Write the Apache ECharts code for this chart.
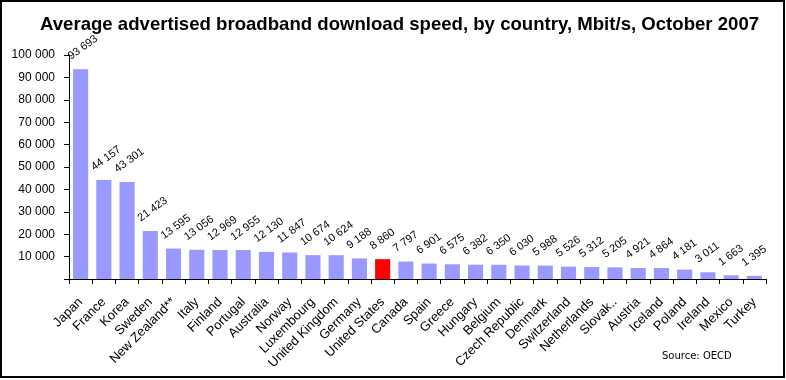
<!DOCTYPE html>
<html><head><meta charset="utf-8">
<script src="https://cdn.jsdelivr.net/npm/echarts@6/dist/echarts.min.js"></script>
<style>html,body{margin:0;padding:0;background:#fff}#c{width:786px;height:380px}</style>
</head><body><div id="c"></div>
<script>
const categories = ["Japan","France","Korea","Sweden","New Zealand**","Italy","Finland","Portugal","Australia","Norway","Luxembourg","United Kingdom","Germany","United States","Canada","Spain","Greece","Hungary","Belgium","Czech Republic","Denmark","Switzerland","Netherlands","Slovak..","Austria","Iceland","Poland","Ireland","Mexico","Turkey"];
const speeds = [93693,44157,43301,21423,13595,13056,12969,12955,12130,11847,10674,10624,9188,8860,7797,6901,6575,6382,6350,6030,5988,5526,5312,5205,4921,4864,4181,3011,1663,1395];
const highlight = "United States";
const titleText = "Average advertised broadband download speed, by country, Mbit/s, October 2007";
const sourceText = "Source: OECD";

function fmt(v){ return String(v).replace(/\B(?=(\d{3})+(?!\d))/g, ' '); }

const chart = echarts.init(document.getElementById('c'), null, {renderer:'canvas'});
chart.setOption({
  animation:false,
  backgroundColor:'#fff',
  title:{text:titleText,left:35,top:10,textStyle:{fontFamily:'Liberation Sans',fontSize:18.6,fontWeight:'bold',color:'#000'}},
  grid:{left:69,right:20,top:55,bottom:101,containLabel:false},
  xAxis:{type:'category',data:categories,
    axisLine:{lineStyle:{color:'#000',width:1}},
    axisTick:{show:true,length:5,lineStyle:{color:'#000'}},
    axisLabel:{rotate:45,interval:0,margin:21,fontFamily:'Liberation Sans',fontSize:13,color:'#000'}},
  yAxis:{type:'value',min:0,max:100000,interval:10000,
    splitLine:{show:false},
    axisLine:{show:true,lineStyle:{color:'#000',width:1}},
    axisTick:{show:true,length:5,lineStyle:{color:'#000'}},
    axisLabel:{margin:14,fontFamily:'Liberation Sans',fontSize:12,color:'#000',formatter:v=>v===0?'':fmt(v)}},
  series:[{type:'bar',barCategoryGap:'35%',
    data:speeds.map((v,i)=>({value:v,itemStyle:{color:categories[i]===highlight?'#FF0000':'#9999FF'}})),
    label:{show:true,position:'top',distance:20,rotate:36,align:'left',verticalAlign:'middle',offset:[-14,0],
      fontFamily:'Liberation Sans',fontSize:11,color:'#000',formatter:p=>fmt(p.value)}}],
  graphic:[
    {type:'rect',shape:{x:1,y:1,width:783,height:376},style:{fill:'none',stroke:'#000',lineWidth:2}},
    {type:'text',left:662,top:351,style:{text:sourceText,font:'10px "DejaVu Sans"',fill:'#000'}}
  ]
});
</script></body></html>
